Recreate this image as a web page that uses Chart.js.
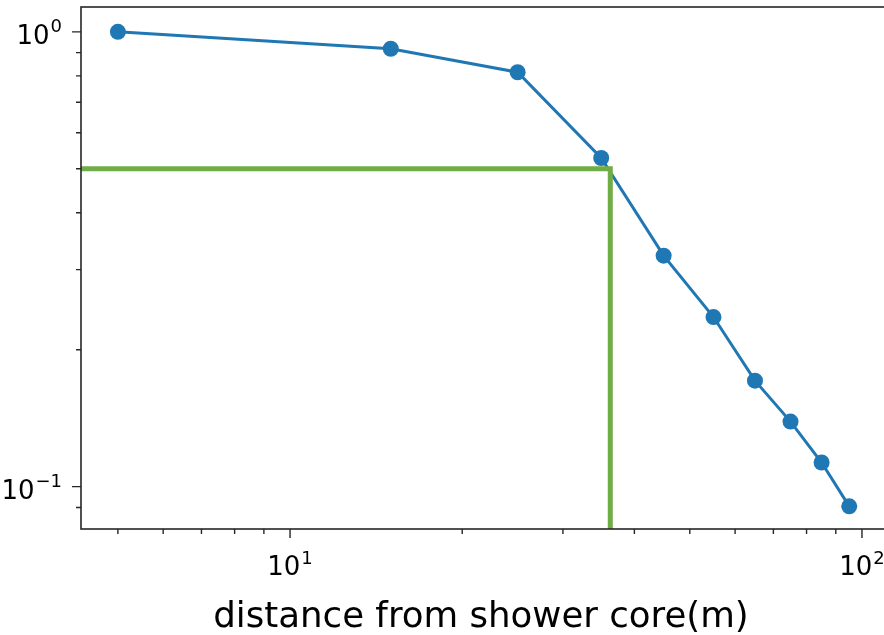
<!DOCTYPE html>
<html>
<head>
<meta charset="utf-8">
<script src="https://cdn.jsdelivr.net/npm/chart.js@4"></script>
<style>
  html, body { margin: 0; padding: 0; background: #fff; overflow: hidden; }
  #wrap { position: relative; width: 887px; height: 635px; }
</style>
</head>
<body>
<div id="wrap"><canvas id="lateralChart"></canvas></div>
<script>
// distance from the shower core (m) and relative signal
const distances = [5, 15, 25, 35, 45, 55, 65, 75, 85, 95];
const fractions = [1.0, 0.918, 0.815, 0.528, 0.322, 0.236, 0.171, 0.139, 0.113, 0.0905];

// half level and the distance where the curve drops through it
const halfLevel = 0.5;
const halfDistance = 36.3;

// axis limits (log scale, with a little margin around the data)
const xLimits = [4.31, 110.6];
const yLimits = [0.0807, 1.134];

// decade labels: value and exponent
const xTickLabels = [[10, '1'], [100, '2']];
const yTickLabels = [[1, '0'], [0.1, '\u22121']];

const FONT = '"DejaVu Sans", sans-serif';

// 1..9 x 10^n tick values inside [min, max]
const logTicks = (min, max) => {
    const ticks = [];
    for (let e = Math.floor(Math.log10(min)); e <= Math.ceil(Math.log10(max)); e++) {
        for (let m = 1; m <= 9; m++) {
            const value = m * Math.pow(10, e);
            if (value >= min && value <= max) ticks.push({ value, major: m === 1 });
        }
    }
    return ticks;
};

// frame, tick marks and 10^n labels drawn like a classic pyplot axes
const axisFrame = {
    id: 'axisFrame',
    afterDatasetsDraw(chart) {
        const { ctx, chartArea: a, scales: { x, y } } = chart;
        ctx.save();
        ctx.strokeStyle = '#262626';
        ctx.lineWidth = 1.6;
        ctx.strokeRect(a.left, a.top, a.right - a.left, a.bottom - a.top);

        ctx.lineWidth = 1.4;
        ctx.beginPath();
        logTicks(x.min, x.max).forEach(t => {
            const px = x.getPixelForValue(t.value);
            ctx.moveTo(px, a.bottom);
            ctx.lineTo(px, a.bottom + (t.major ? 9 : 5));
        });
        logTicks(y.min, y.max).forEach(t => {
            const py = y.getPixelForValue(t.value);
            ctx.moveTo(a.left, py);
            ctx.lineTo(a.left - (t.major ? 9 : 5), py);
        });
        ctx.stroke();

        const baseFont = `26px ${FONT}`;
        const expFont = `18px ${FONT}`;
        ctx.fillStyle = '#000';
        ctx.textBaseline = 'alphabetic';
        ctx.textAlign = 'left';

        const widths = (p) => {
            ctx.font = baseFont;
            const wb = ctx.measureText('10').width;
            ctx.font = expFont;
            const we = ctx.measureText(p).width;
            return [wb, we];
        };

        xTickLabels.forEach(([v, p]) => {
            const [wb, we] = widths(p);
            const left = x.getPixelForValue(v) - (wb + we + 1) / 2;
            const base = a.bottom + 46;
            ctx.font = baseFont;
            ctx.fillText('10', left, base);
            ctx.font = expFont;
            ctx.fillText(p, left + wb + 1, base - 11.5);
        });

        yTickLabels.forEach(([v, p]) => {
            const [wb, we] = widths(p);
            const right = a.left - 19;
            const base = y.getPixelForValue(v) + 12;
            ctx.font = expFont;
            ctx.fillText(p, right - we, base - 11.5);
            ctx.font = baseFont;
            ctx.fillText('10', right - we - 1 - wb, base);
        });

        // axis label, sits a little left of the scale centre
        ctx.font = `35.6px ${FONT}`;
        ctx.textAlign = 'center';
        ctx.fillText('distance from shower core(m)', 481, a.bottom + 98);
        ctx.restore();
    }
};

const curve = distances.map((d, i) => ({ x: d, y: fractions[i] }));
const halfMarker = [
    { x: xLimits[0], y: halfLevel },
    { x: halfDistance, y: halfLevel },
    { x: halfDistance, y: yLimits[0] }
];

new Chart(document.getElementById('lateralChart'), {
    type: 'scatter',
    data: {
        datasets: [
            {
                data: halfMarker,
                showLine: true,
                borderColor: '#70ad47',
                borderWidth: 5,
                borderJoinStyle: 'miter',
                pointRadius: 0
            },
            {
                data: curve,
                showLine: true,
                borderColor: '#1f77b4',
                borderWidth: 3,
                pointRadius: 8,
                pointBackgroundColor: '#1f77b4',
                pointBorderWidth: 0
            }
        ]
    },
    options: {
        responsive: true,
        maintainAspectRatio: false,
        animation: false,
        layout: { autoPadding: false, padding: { left: 0, right: 0, top: 7, bottom: 0 } },
        plugins: {
            legend: { display: false },
            tooltip: { enabled: false }
        },
        scales: {
            x: {
                type: 'logarithmic',
                min: xLimits[0],
                max: xLimits[1],
                grid: { display: false },
                border: { display: false },
                ticks: { display: false },
                afterFit: (scale) => { scale.height = 106; }
            },
            y: {
                type: 'logarithmic',
                min: yLimits[0],
                max: yLimits[1],
                grid: { display: false },
                border: { display: false },
                ticks: { display: false },
                afterFit: (scale) => { scale.width = 81; }
            }
        }
    },
    plugins: [axisFrame]
});
</script>
</body>
</html>
